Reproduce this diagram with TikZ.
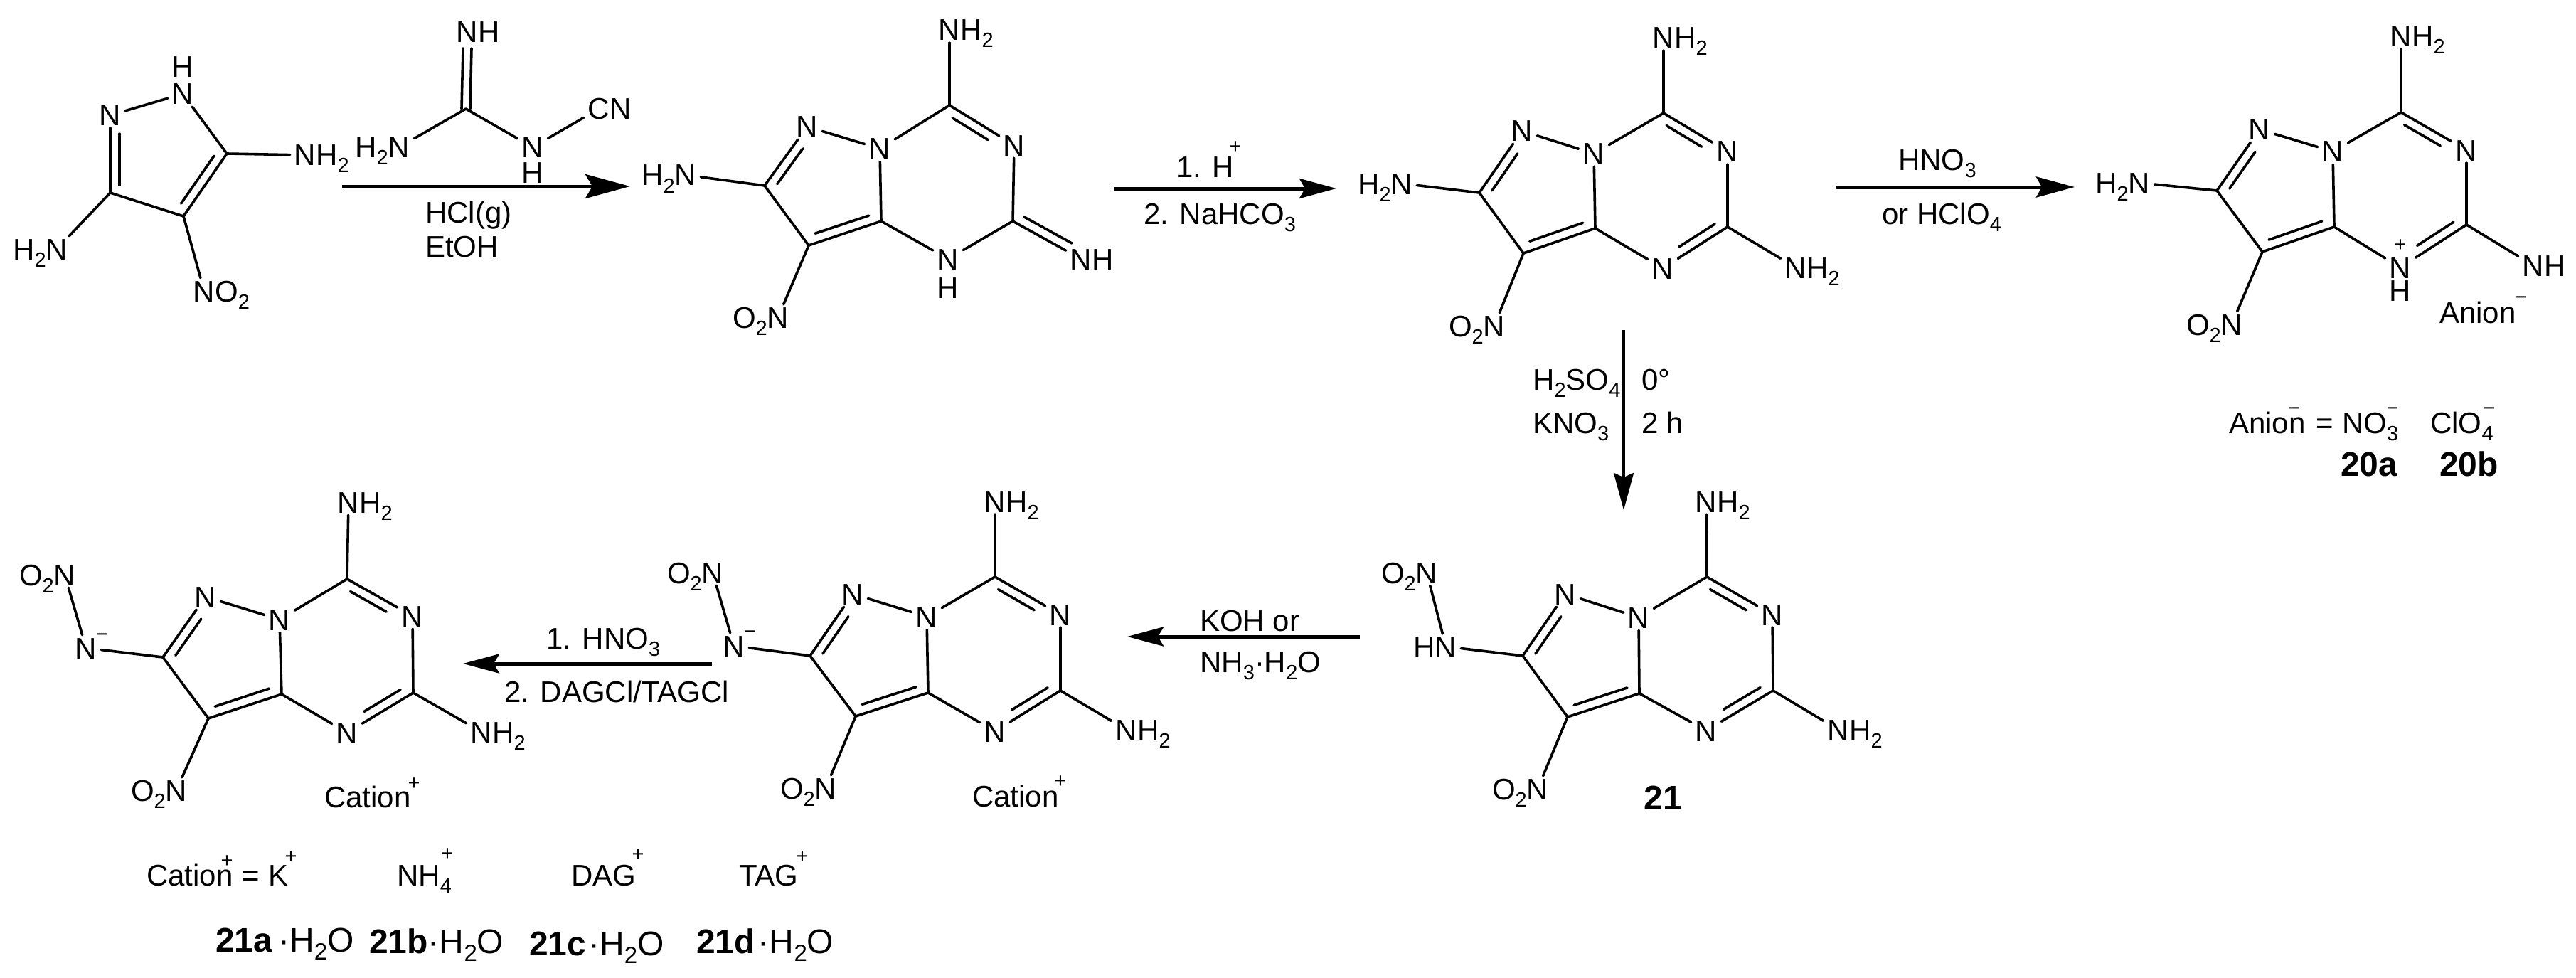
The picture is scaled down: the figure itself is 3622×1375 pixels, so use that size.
\documentclass[tikz,border=0pt]{standalone}
\usepackage{fontspec}
\setmainfont{Liberation Sans}
\usetikzlibrary{arrows.meta,calc}
\newcommand{\fsa}{\fontsize{42}{48}\selectfont}
\newcommand{\fsb}{\fontsize{48}{54}\selectfont}
\newcommand{\sbs}[1]{\raisebox{-10pt}{\fontsize{29}{29}\selectfont #1}}
\newcommand{\sbb}[1]{\raisebox{-11pt}{\fontsize{33}{33}\selectfont #1}}
\newcommand{\NHtwo}{N\rlap{H\sbs{2}}}
\newcommand{\HtwoN}{\llap{H\sbs{2}}N}
\newcommand{\OtwoN}{\llap{O\sbs{2}}N}
\tikzset{
  atom/.style={font=\fsa,inner xsep=6pt,inner ysep=3pt,text height=30pt,text depth=0pt},
  lab/.style={font=\fsa,inner sep=0pt,anchor=west,text height=30pt,text depth=0pt},
  blab/.style={font=\fsb,inner sep=0pt,anchor=west,text height=34pt,text depth=0pt},
  sg/.style={font=\fontsize{29}{29}\selectfont,inner sep=0pt,text height=20pt,text depth=0pt},
  bond/.style={draw=black,line width=3.6pt,line cap=round},
  rxn/.style={draw=black,line width=5pt},
}
\newcommand{\dbl}[4]{\draw[bond] (#1) -- (#2);
  \draw[bond] ($(#1)!#3!(#2)!13pt!-90:(#2)$) -- ($(#2)!#4!(#1)!13pt!90:(#1)$);}
\newcommand{\fused}[1]{%
  \draw[bond] (#1Ct) -- (#1Na);
  \dbl{#1Ct}{#1Nr}{.12}{.33}
  \draw[bond] (#1Nr) -- (#1Cr);
  \draw[bond] (#1Ca) -- (#1Nb);
  \draw[bond] (#1Nj) -- (#1Ct);
  \draw[bond] (#1Nj) -- (#1Ca);
  \draw[bond] (#1Nl) -- (#1Nj);
  \dbl{#1C2}{#1Nl}{.12}{.28}
  \dbl{#1Ca}{#1C3}{.13}{.13}
  \draw[bond] (#1C2) -- (#1C3);
  \draw[bond] (#1C3) -- (#1Ox);
  \draw[bond] (#1Su) -- (#1C2);}
\begin{document}
\begin{tikzpicture}[x=1pt,y=-1pt]
\useasboundingbox[fill=white] (0,0) rectangle (3622,1375);

% pyrazole
\node[atom] (pH) at (257,94) {H};
\node[atom] (pNt) at (257,132) {N};
\node[atom] (pNl) at (155,162) {N};
\coordinate (pC5) at (319,216);
\coordinate (pC4) at (258,304);
\coordinate (pC3) at (155,271);
\node[atom] (pNa) at (429,218) {\NHtwo};
\node[atom] (pNh) at (80,350) {\HtwoN};
\node[atom] (pNo) at (287,409) {N\rlap{O\sbs{2}}};
\draw[bond] (pNt) -- (pNl);
\draw[bond] (pNt) -- (pC5);
\dbl{pC5}{pC4}{.12}{.12}
\draw[bond] (pC4) -- (pC3);
\dbl{pC3}{pNl}{.1}{.24}
\draw[bond] (pC5) -- (pNa);
\draw[bond] (pC3) -- (pNh);
\draw[bond] (pC4) -- (pNo);

% cyanoguanidine
\coordinate (gC) at (655,153);
\node[atom] (gNi) at (657,45) {N\rlap{H}};
\node[atom] (gNh) at (561,207) {\HtwoN};
\node[atom] (gN) at (749,207) {N};
\node[atom] (gH) at (749,243) {H};
\node[atom] (gCN) at (842,153) {C\rlap{N}};
\draw[bond] ($(gC)+(-6,0)$) -- ($(gNi)+(-6,23)$);
\draw[bond] ($(gC)+(6,0)$) -- ($(gNi)+(6,23)$);
\draw[bond] (gC) -- (gNh);
\draw[bond] (gC) -- (gN);
\draw[bond] (gN) -- (gCN);

% arrow 1
\coordinate (a1s) at (481,262);
\coordinate (a1e) at (886,262);
\draw[rxn,-{Stealth[length=63pt,width=34pt,inset=10pt]}] (a1s) -- (a1e);
\node[lab] (t1a) at (598,298) {HCl(g)};
\node[lab] (t1b) at (598,346) {EtOH};

% molecule 2
\coordinate (bCt) at (1335,148);
\node[atom] (bNa) at (1335,42) {\NHtwo};
\node[atom] (bNr) at (1426,204) {N};
\node[atom] (bNj) at (1237,209) {N};
\node[atom] (bNl) at (1135,178) {N};
\coordinate (bC2) at (1075,261);
\coordinate (bC3) at (1137,345);
\coordinate (bCa) at (1239,311);
\node[atom] (bNb) at (1333,364) {N};
\node[atom] (bHb) at (1333,404) {H};
\coordinate (bCr) at (1424,311);
\node[atom] (bNi) at (1520,364) {N\rlap{H}};
\node[atom] (bSu) at (964,246) {\HtwoN};
\node[atom] (bOx) at (1094,446) {\OtwoN};
\fused{b}
\draw[bond] (bCr) -- (bNb);
\dbl{bNi}{bCr}{.2}{.1}

% arrow 2
\coordinate (a2s) at (1566,265);
\coordinate (a2e) at (1879,265);
\draw[rxn,-{Stealth[length=52pt,width=28pt,inset=8pt]}] (a2s) -- (a2e);
\node[lab] (t2a) at (1654,234) {1. H};
\node[sg] (t2p) at (1737,206) {+};
\node[lab] (t2b) at (1608,300) {2. NaHCO\sbs{3}};

% molecule 3
\coordinate (cCt) at (2339,159);
\node[atom] (cNa) at (2339,53) {\NHtwo};
\node[atom] (cNr) at (2429,213) {N};
\node[atom] (cNj) at (2241,216) {N};
\node[atom] (cNl) at (2140,184) {N};
\coordinate (cC2) at (2080,271);
\coordinate (cC3) at (2142,356);
\coordinate (cCa) at (2243,321);
\node[atom] (cNb) at (2338,377) {N};
\coordinate (cCr) at (2429,319);
\node[atom] (cNe) at (2525,376) {\NHtwo};
\node[atom] (cSu) at (1971,258) {\HtwoN};
\node[atom] (cOx) at (2101,458) {\OtwoN};
\fused{c}
\dbl{cCr}{cNb}{.12}{.33}
\draw[bond] (cCr) -- (cNe);

% arrow 3
\coordinate (a3s) at (2582,263);
\coordinate (a3e) at (2917,263);
\draw[rxn,-{Stealth[length=54pt,width=29pt,inset=8pt]}] (a3s) -- (a3e);
\node[lab,anchor=center] (t3a) at (2724,225) {HNO\sbs{3}};
\node[lab,anchor=center] (t3b) at (2730,300) {or HClO\sbs{4}};

% molecule 4
\coordinate (dCt) at (3376,158);
\node[atom] (dNa) at (3376,51) {\NHtwo};
\node[atom] (dNr) at (3468,211) {N};
\node[atom] (dNj) at (3280,213) {N};
\node[atom] (dNl) at (3177,182) {N};
\coordinate (dC2) at (3117,268);
\coordinate (dC3) at (3181,354);
\coordinate (dCa) at (3282,319);
\node[atom] (dNb) at (3375,376) {N};
\node[sg] (dPl) at (3375,343) {+};
\node[atom] (dHb) at (3375,408) {H};
\coordinate (dCr) at (3468,316);
\node[atom] (dNe) at (3562,373) {N\rlap{H}};
\node[atom] (dSu) at (3008,257) {\HtwoN};
\node[atom] (dOx) at (3138,456) {\OtwoN};
\fused{d}
\dbl{dCr}{dNb}{.12}{.33}
\draw[bond] (dCr) -- (dNe);
\node[lab] (dAn) at (3430,439) {Anion};
\node[sg] (dMi) at (3544,417) {−};

% anion legend
\node[lab] (eAn) at (3134,594) {Anion};
\node[sg] (eMa) at (3226,573) {−};
\node[lab] (eEq) at (3256,594) {=};
\node[lab] (eNo) at (3293,594) {NO\sbs{3}};
\node[sg] (eMb) at (3364,573) {−};
\node[lab] (eCl) at (3417,594) {ClO\sbs{4}};
\node[sg] (eMc) at (3500,573) {−};
\node[blab] (e20a) at (3291,652) {\bfseries 20a};
\node[blab] (e20b) at (3430,652) {\bfseries 20b};

% arrow down
\coordinate (a4s) at (2283,464);
\coordinate (a4e) at (2283,717);
\draw[bond,line cap=butt,-{Stealth[length=52pt,width=28pt,inset=6pt]}] (a4s) -- (a4e);
\node[lab] (t4a) at (2155,533) {H\sbs{2}SO\sbs{4}};
\node[lab] (t4b) at (2308,533) {0°};
\node[lab] (t4c) at (2155,594) {KNO\sbs{3}};
\node[lab] (t4d) at (2308,594) {2 h};

% molecule 21
\coordinate (fCt) at (2400,811);
\node[atom] (fNa) at (2399,705) {\NHtwo};
\node[atom] (fNr) at (2492,864) {N};
\node[atom] (fNj) at (2304,868) {N};
\node[atom] (fNl) at (2201,835) {N};
\coordinate (fC2) at (2141,922);
\coordinate (fC3) at (2204,1008);
\coordinate (fCa) at (2305,975);
\node[atom] (fNb) at (2399,1027) {N};
\coordinate (fCr) at (2493,971);
\node[atom] (fNe) at (2585,1026) {\NHtwo};
\node[atom] (fSu) at (2033,909) {\llap{H}N};
\node[atom] (fOx) at (2162,1109) {\OtwoN};
\node[atom] (fOt) at (2006,805) {\OtwoN};
\fused{f}
\dbl{fCr}{fNb}{.12}{.33}
\draw[bond] (fCr) -- (fNe);
\draw[bond] (fSu) -- (fOt);
\node[blab,anchor=center] (f21) at (2338,1121) {\bfseries 21};

% arrow 5
\coordinate (a5s) at (1912,895);
\coordinate (a5e) at (1585,895);
\draw[rxn,-{Stealth[length=51pt,width=27pt,inset=8pt]}] (a5s) -- (a5e);
\node[lab] (t5a) at (1687,872) {KOH or};
\node[lab] (t5b) at (1687,930) {NH\sbs{3}·H\sbs{2}O};

% molecule 5
\coordinate (hCt) at (1399,811);
\node[atom] (hNa) at (1399,705) {\NHtwo};
\node[atom] (hNr) at (1491,864) {N};
\node[atom] (hNj) at (1303,867) {N};
\node[atom] (hNl) at (1199,835) {N};
\coordinate (hC2) at (1139,922);
\coordinate (hC3) at (1203,1007);
\coordinate (hCa) at (1305,974);
\node[atom] (hNb) at (1399,1028) {N};
\coordinate (hCr) at (1491,971);
\node[atom] (hNe) at (1584,1026) {\NHtwo};
\node[atom] (hSu) at (1032,908) {N};
\node[sg] (hMi) at (1054,887) {−};
\node[atom] (hOx) at (1161,1108) {\OtwoN};
\node[atom] (hOt) at (1002,805) {\OtwoN};
\fused{h}
\dbl{hCr}{hNb}{.12}{.33}
\draw[bond] (hCr) -- (hNe);
\draw[bond] (hSu) -- (hOt);
\node[lab] (hCa2) at (1367,1119) {Cation};
\node[sg] (hPl) at (1491,1097) {+};

% arrow 6
\coordinate (a6s) at (1001,933);
\coordinate (a6e) at (651,933);
\draw[rxn,-{Stealth[length=51pt,width=27pt,inset=8pt]}] (a6s) -- (a6e);
\node[lab] (t6a) at (768,897) {1. HNO\sbs{3}};
\node[lab] (t6b) at (709,972) {2. DAGCl/TAGCl};

% molecule 6
\coordinate (iCt) at (488,814);
\node[atom] (iNa) at (490,706) {\NHtwo};
\node[atom] (iNr) at (580,866) {N};
\node[atom] (iNj) at (393,871) {N};
\node[atom] (iNl) at (289,839) {N};
\coordinate (iC2) at (229,924);
\coordinate (iC3) at (293,1010);
\coordinate (iCa) at (396,976);
\node[atom] (iNb) at (488,1030) {N};
\coordinate (iCr) at (581,974);
\node[atom] (iNe) at (677,1029) {\NHtwo};
\node[atom] (iSu) at (121,911) {N};
\node[sg] (iMi) at (144,891) {−};
\node[atom] (iOx) at (248,1111) {\OtwoN};
\node[atom] (iOt) at (91,808) {\OtwoN};
\fused{i}
\dbl{iCr}{iNb}{.12}{.33}
\draw[bond] (iCr) -- (iNe);
\draw[bond] (iSu) -- (iOt);
\node[lab] (iCa2) at (456,1120) {Cation};
\node[sg] (iPl) at (582,1100) {+};

% cation legend
\node[lab] (jCa) at (206,1230) {Cation};
\node[sg] (jP1) at (319,1209) {+};
\node[lab] (jEq) at (340,1230) {=};
\node[lab] (jK) at (377,1230) {K};
\node[sg] (jP2) at (409,1203) {+};
\node[lab] (jNH) at (558,1230) {NH\sbs{4}};
\node[sg] (jP3) at (629,1199) {+};
\node[lab] (jDA) at (803,1230) {DAG};
\node[sg] (jP4) at (897,1200) {+};
\node[lab] (jTA) at (1039,1230) {TAG};
\node[sg] (jP5) at (1128,1203) {+};

\node[blab] (k21a) at (303,1321) {\bfseries 21a\kern8pt\mdseries ·H\sbb{2}O};
\node[blab] (k21b) at (519,1323) {\bfseries 21b\mdseries ·H\sbb{2}O};
\node[blab] (k21c) at (744,1326) {\bfseries 21c\kern3pt\mdseries ·H\sbb{2}O};
\node[blab] (k21d) at (979,1323) {\bfseries 21d\kern4pt\mdseries ·H\sbb{2}O};
\end{tikzpicture}
\end{document}
